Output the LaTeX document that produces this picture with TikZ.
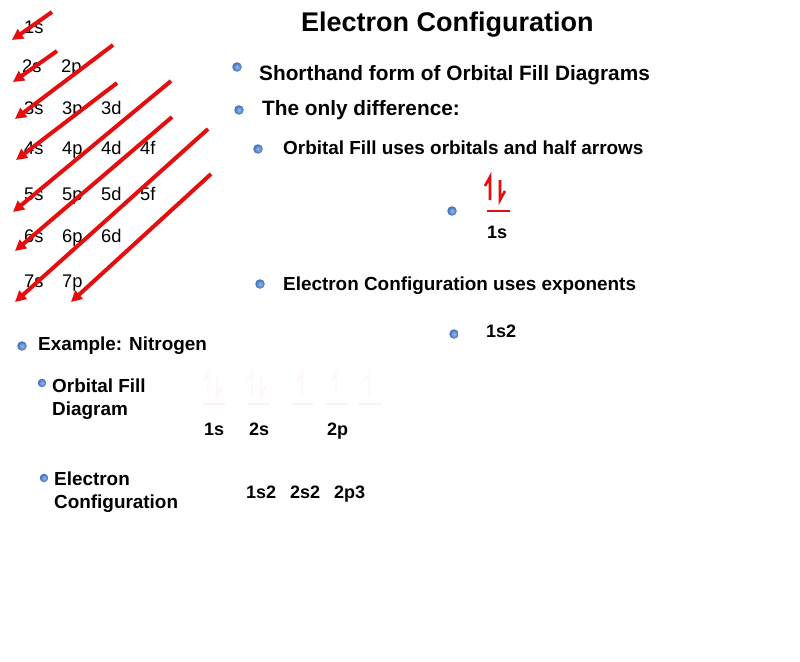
\documentclass[tikz,border=0pt]{standalone}
\usepackage{fontspec}
\setmainfont{Liberation Sans}
\usetikzlibrary{arrows.meta}
\definecolor{arrred}{RGB}{228,14,14}
\definecolor{bulblue}{RGB}{62,108,185}
\definecolor{bullight}{RGB}{150,185,235}
\definecolor{faintarr}{RGB}{255,248,248}
\definecolor{faintline}{RGB}{253,240,240}
\tikzset{
  gridtxt/.style={font=\fontsize{18.3}{20}\selectfont, anchor=base west, inner sep=0pt},
  lvlone/.style={font=\bfseries\fontsize{20.8}{24}\selectfont, anchor=base west, inner sep=0pt},
  lvltwo/.style={font=\bfseries\fontsize{18.9}{22}\selectfont, anchor=base west, inner sep=0pt},
  smalllbl/.style={font=\bfseries\fontsize{18}{20}\selectfont, anchor=base west, inner sep=0pt},
  bul/.style={circle, inner sep=0pt, minimum size=9.5pt, shading=radial, inner color=bullight, outer color=bulblue},
  diagarrow/.style={draw=arrred, line width=4pt, -{Triangle[length=11pt,width=11pt]}},
  harpoon/.style={line width=2.6pt, miter limit=20},
  orbline/.style={line width=2.6pt}
}
\begin{document}
\begin{tikzpicture}[x=1pt,y=-1pt]
\path[use as bounding box] (0,0) rectangle (800,661);

% ---- aufbau grid ----
\node[gridtxt] (g1s) at (24,34) {1s};
\node[gridtxt] (g2s) at (22,72) {2s};
\node[gridtxt] (g2p) at (61,72) {2p};
\node[gridtxt] (g3s) at (24,114) {3s};
\node[gridtxt] (g3p) at (62,114) {3p};
\node[gridtxt] (g3d) at (101,114) {3d};
\node[gridtxt] (g4s) at (24,154) {4s};
\node[gridtxt] (g4p) at (62,154) {4p};
\node[gridtxt] (g4d) at (101,154) {4d};
\node[gridtxt] (g4f) at (140,154) {4f};
\node[gridtxt] (g5s) at (24,200) {5s};
\node[gridtxt] (g5p) at (62,200) {5p};
\node[gridtxt] (g5d) at (101,200) {5d};
\node[gridtxt] (g5f) at (140,200) {5f};
\node[gridtxt] (g6s) at (24,242) {6s};
\node[gridtxt] (g6p) at (62,242) {6p};
\node[gridtxt] (g6d) at (101,242) {6d};
\node[gridtxt] (g7s) at (24,287) {7s};
\node[gridtxt] (g7p) at (62,287) {7p};

% ---- diagonal arrows ----
\coordinate (a1s) at (52,12);  \coordinate (a1e) at (12,40);
\coordinate (a2s) at (57,51);  \coordinate (a2e) at (13,82);
\coordinate (a3s) at (113,45); \coordinate (a3e) at (15,119);
\coordinate (a4s) at (117,83); \coordinate (a4e) at (16,160);
\coordinate (a5s) at (171,81); \coordinate (a5e) at (13,212);
\coordinate (a6s) at (172,117);\coordinate (a6e) at (15,251);
\coordinate (a7s) at (208,129);\coordinate (a7e) at (15,302);
\coordinate (a8s) at (211,174);\coordinate (a8e) at (71,302);
\foreach \i in {1,...,8}{\draw[diagarrow] (a\i s) -- (a\i e);}

% ---- title ----
\node[font=\bfseries\fontsize{27}{30}\selectfont, anchor=base west, inner sep=0pt] (title) at (301,32) {Electron Configuration};

% ---- bullets right ----
\node[bul] (b1) at (237,67) {};
\node[lvlone] (t1) at (259,80) {Shorthand form of Orbital Fill Diagrams};
\node[bul] (b2) at (239,110) {};
\node[lvlone] (t2) at (262,115) {The only difference:};
\node[bul] (b3) at (258,149) {};
\node[lvltwo] (t3) at (283,154) {Orbital Fill uses orbitals and half arrows};
\node[bul] (b4) at (452,211) {};
% orbital symbol 1s
\draw[harpoon, arrred] (490,200) -- (490,177) -- (485,186);
\draw[harpoon, arrred] (500,180) -- (500,200) -- (505,191);
\draw[orbline, arrred] (487,211) -- (510,211);
\node[smalllbl] (o1s) at (487,238) {1s};

\node[bul] (b5) at (260,284) {};
\node[lvltwo] (t5) at (283,290) {Electron Configuration uses exponents};
\node[bul] (b6) at (454,334) {};
\node[smalllbl] (c1s2) at (486,337) {1s2};

% ---- example ----
\node[bul] (b7) at (22,346) {};
\node[lvltwo] (t7) at (38,350) {Example: Nitrogen};
\node[bul, minimum size=8.5pt] (b8) at (42,383) {};
\node[lvltwo] (t8a) at (52,392) {Orbital Fill};
\node[lvltwo] (t8b) at (52,415) {Diagram};
\node[bul, minimum size=8.5pt] (b9) at (44,478) {};
\node[lvltwo] (t9a) at (54,485) {Electron};
\node[lvltwo] (t9b) at (54,508) {Configuration};

% faint orbital fill diagram
\foreach \x in {208,252}{
  \draw[harpoon, faintarr] (\x,395) -- (\x,373) -- (\x-5,382);
  \draw[harpoon, faintarr] (\x+9,376) -- (\x+9,395) -- (\x+14,386);
}
\foreach \x in {302,336,369}{
  \draw[harpoon, faintarr] (\x,395) -- (\x,373) -- (\x-5,382);
}
\foreach \a/\b in {203/225,248/270,292/313,325/348,358/382}{
  \draw[orbline, faintline] (\a,404) -- (\b,404);
}
\node[smalllbl] (l1s) at (204,435) {1s};
\node[smalllbl] (l2s) at (249,435) {2s};
\node[smalllbl] (l2p) at (327,435) {2p};

\node[smalllbl] (e1) at (246,498) {1s2};
\node[smalllbl] (e2) at (290,498) {2s2};
\node[smalllbl] (e3) at (334,498) {2p3};
\end{tikzpicture}
\end{document}
